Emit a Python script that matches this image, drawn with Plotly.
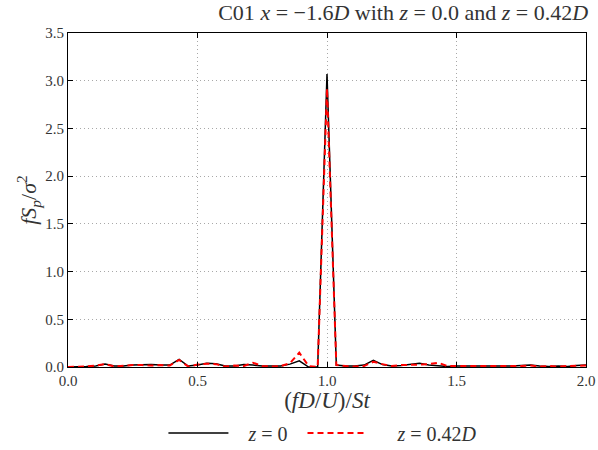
import plotly.graph_objects as go

freq = [0.000, 0.036, 0.071, 0.107, 0.143, 0.179, 0.214, 0.250, 0.286, 0.321,
        0.357, 0.393, 0.429, 0.464, 0.500, 0.536, 0.571, 0.607, 0.643, 0.679,
        0.714, 0.750, 0.786, 0.821, 0.857, 0.893, 0.929, 0.964, 1.000, 1.036,
        1.071, 1.107, 1.143, 1.179, 1.214, 1.250, 1.286, 1.321, 1.357, 1.393,
        1.429, 1.464, 1.500, 1.536, 1.571, 1.607, 1.643, 1.679, 1.714, 1.750,
        1.786, 1.821, 1.857, 1.893, 1.929, 1.964, 2.000]

spec_z0 = [0.00, 0.00, 0.005, 0.01, 0.03, 0.01, 0.01, 0.02, 0.025, 0.025,
           0.02, 0.02, 0.08, 0.01, 0.02, 0.04, 0.035, 0.01, 0.01, 0.025,
           0.02, 0.01, 0.01, 0.01, 0.03, 0.065, 0.00, 0.00, 3.07, 0.02,
           0.01, 0.01, 0.02, 0.07, 0.025, 0.01, 0.015, 0.03, 0.04, 0.02,
           0.01, 0.005, 0.01, 0.01, 0.01, 0.005, 0.01, 0.005, 0.01, 0.015,
           0.02, 0.01, 0.005, 0.01, 0.005, 0.015, 0.02]

spec_z042 = [0.00, 0.00, 0.005, 0.015, 0.03, 0.005, 0.015, 0.02, 0.02, 0.015,
             0.02, 0.015, 0.075, 0.005, 0.025, 0.035, 0.03, 0.005, 0.015, 0.01,
             0.045, 0.01, 0.005, 0.01, 0.04, 0.15, 0.01, 0.00, 2.92, 0.02,
             0.01, 0.005, 0.01, 0.055, 0.03, 0.01, 0.02, 0.02, 0.025, 0.03,
             0.045, 0.01, 0.01, 0.005, 0.005, 0.01, 0.005, 0.01, 0.01, 0.01,
             0.015, 0.005, 0.01, 0.005, 0.01, 0.01, 0.015]

x_ticks = [0.0, 0.5, 1.0, 1.5, 2.0]
x_labels = ["0.0", "0.5", "1.0", "1.5", "2.0"]
y_ticks = [0.0, 0.5, 1.0, 1.5, 2.0, 2.5, 3.0, 3.5]
y_labels = ["0.0", "0.5", "1.0", "1.5", "2.0", "2.5", "3.0", "3.5"]

FONT = "Liberation Serif, DejaVu Serif, serif"
NB = "\u00a0"

fig = go.Figure()
fig.add_trace(go.Scatter(x=freq, y=spec_z0, mode="lines",
                         line=dict(color="black", width=1.5),
                         name=NB * 3 + "<i>z</i> = 0" + NB * 2))
fig.add_trace(go.Scatter(x=freq, y=spec_z042, mode="lines",
                         line=dict(color="red", width=2, dash="6px,4px"),
                         name=NB * 5 + "<i>z</i> = 0.42<i>D</i>"))

axis_common = dict(showline=True, linecolor="black", linewidth=1, mirror="ticks",
                   ticks="inside", ticklen=5, tickcolor="black",
                   showgrid=True, gridcolor="#a8a8a8", griddash="1px,3px", gridwidth=1,
                   zeroline=False, automargin=False,
                   tickfont=dict(family=FONT, size=15, color="#333"))

fig.update_xaxes(range=[0, 2.0], tickvals=x_ticks, ticktext=x_labels,
                 title=dict(text="(<i>fD</i>/<i>U</i>)/<i>St</i>",
                            font=dict(family=FONT, size=23, color="#333"), standoff=2),
                 **axis_common)
fig.update_yaxes(range=[0, 3.5], tickvals=y_ticks, ticktext=y_labels,
                 title=dict(text="<i>fS<sub>p</sub></i>/<i>σ</i><sup>2</sup>",
                            font=dict(family=FONT, size=22, color="#333"), standoff=2),
                 **axis_common)

fig.update_layout(
    width=598, height=450,
    margin=dict(l=68, r=12, t=33, b=83),
    paper_bgcolor="white", plot_bgcolor="white",
    title=dict(text="C01 <i>x</i> = −1.6<i>D</i> with <i>z</i> = 0.0 and <i>z</i> = 0.42<i>D</i>",
               x=0.647, xref="paper", xanchor="center", y=0.972, yref="container",
               yanchor="middle",
               font=dict(family=FONT, size=22, color="#333")),
    legend=dict(orientation="h", x=0.54, xref="container", xanchor="center",
                y=0.038, yref="container", yanchor="middle",
                font=dict(family=FONT, size=20, color="#333"),
                bgcolor="rgba(0,0,0,0)", itemwidth=60),
    showlegend=True,
)

fig.write_html("out.html")
